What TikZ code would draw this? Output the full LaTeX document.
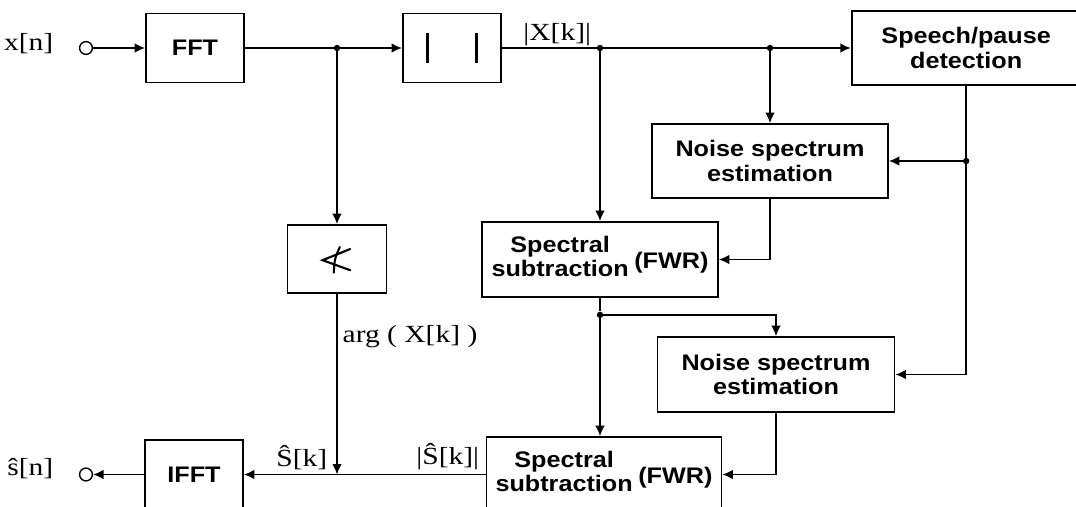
\documentclass[tikz,border=0pt]{standalone}
\usepackage{fontspec}
\setmainfont{Liberation Serif}[FakeStretch=1.2]
\newfontfamily\blockfont{Liberation Sans}[FakeStretch=1.12]
\usetikzlibrary{arrows.meta, positioning, calc}

\begin{document}
\begin{tikzpicture}[
    node distance=1cm and 1cm,
    block/.style={draw, line width=1.3pt, inner sep=0pt, align=center, font=\blockfont\bfseries\fontsize{16}{17.5}\selectfont},
    small/.style={block, minimum width=2.45cm, minimum height=1.725cm},
    wide/.style={block, minimum width=5.9cm, minimum height=1.85cm},
    port/.style={draw, circle, line width=1pt, minimum size=0.32cm, inner sep=0pt},
    junction/.style={circle, fill, inner sep=0pt, minimum size=1.6mm},
    wire/.style={line width=1.2pt},
    sig/.style={wire, -{Latex[length=2.6mm, width=2.4mm]}},
    lbl/.style={inner sep=1pt, font=\fontsize{17.5}{19}\selectfont},
    glyph/.style={line width=1.5pt, line cap=round},
]

% Frame
\useasboundingbox (0,0) rectangle (26.9,-12.675);

% Top row
\node[port] (xin) at (2.15,-1.2) {};
\node[lbl, left=0.6cm of xin, yshift=0.1cm] (xinlbl) {x[n]};
\node[small, right=1.3cm of xin] (fft) {FFT};
\node[small, right=3.925cm of fft] (absval) {\rule{1.9pt}{0.75cm}\hspace{1.16cm}\rule{1.9pt}{0.75cm}};
\node[block, minimum width=5.725cm, minimum height=1.85cm, right=8.725cm of absval] (speech) {Speech/pause\\detection};

% Junctions on the top line
\node[junction] (j1) at (8.425,-1.2) {};
\node[junction] (j2) at (15.0,-1.2) {};
\node[junction] (j3) at (19.25,-1.2) {};

% Phase and noise branch
\node[small, minimum width=2.475cm, minimum height=1.7cm] (angle) at (8.425,-6.475) {};
\node[wide] (noise1) at (19.25,-4.025) {Noise spectrum\\estimation};
\node[wide, minimum height=1.875cm] (spec1) at (15.0,-6.4875) {\begin{tabular}{@{}c@{}}Spectral\\subtraction\end{tabular}\hspace{4pt}\raisebox{-2pt}{(FWR)}};
\node[wide, minimum width=5.925cm, minimum height=1.875cm] (noise2) at (19.4,-9.3625) {Noise spectrum\\estimation};
\node[wide, minimum width=5.875cm, minimum height=1.875cm] (spec2) at (15.1,-11.8625) {\begin{tabular}{@{}c@{}}Spectral\\subtraction\end{tabular}\hspace{4pt}\raisebox{-2pt}{(FWR)}};

% Angle sign
\draw[glyph] ($(angle.center)+(0.33,0.25)$) -- ($(angle.center)+(-0.36,-0.03)$) -- ($(angle.center)+(0.33,-0.28)$);
\draw[glyph] ($(angle.center)+(0.07,0.3)$) .. controls ($(angle.center)+(-0.06,0)$) .. ($(angle.center)+(-0.08,-0.34)$);

% Bottom row
\node[small] (ifft) at (4.85,-11.8625) {IFFT};
\node[port] (xout) at (2.15,-11.8625) {};
\node[lbl, left=0.6cm of xout, yshift=0.15cm] (xoutlbl) {ŝ[n]};

% Helper points
\coordinate (j4) at (speech.south |- noise1.east);
\node[junction] at (j4) {};
\node[junction] (j5) at ($(spec1.south)+(0,-0.425)$) {};
\coordinate (mix) at (angle.south |- spec2.west);

% Edges
\draw[sig] (xin) -- (fft);
\draw[sig] (fft) -- (absval);
\draw[sig] (absval) -- (speech);
\draw[sig] (j1) -- (angle);
\draw[sig] (j2) -- (j2 |- spec1.north);
\draw[sig] (j3) -- (noise1);
\draw[sig] (speech.south) |- (noise2.east);
\draw[sig] (j4) -- (noise1.east);
\draw[sig] (noise1.south) |- (spec1.east);
\draw[wire] (spec1.south) -- (j5);
\draw[sig] (j5) -- (j5 |- spec2.north);
\draw[sig] (j5) -| (noise2.north);
\draw[sig] (noise2.south) |- (spec2.east);
\draw[sig] (spec2) -- (ifft);
\draw[sig] (angle) -- (mix);
\draw[sig] (ifft) -- (xout);

% Signal labels
\node[lbl, above right=0.02cm and 0.5cm of absval.east] (maglbl) {|X[k]|};
\node[lbl, below right=0.75cm and 0.1cm of angle.south] (arglbl) {arg ( X[k] )};
\node[lbl, above left=0.08cm and 0.2cm of mix] (shatlbl) {Ŝ[k]};
\node[lbl, above left=0.08cm and 0.12cm of spec2.west] (smaglbl) {|Ŝ[k]|};

\end{tikzpicture}
\end{document}
